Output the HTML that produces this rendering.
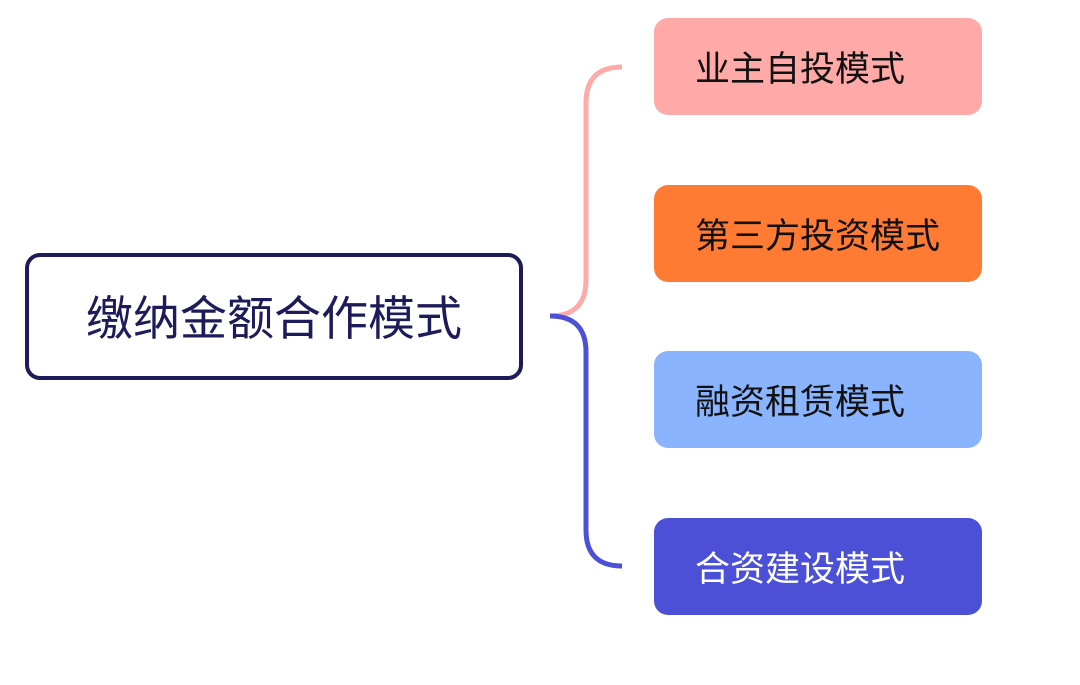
<!DOCTYPE html>
<html><head><meta charset="utf-8"><style>
body{margin:0;width:1080px;height:685px;background:#fff;position:relative;overflow:hidden;font-family:"Liberation Sans","Noto Sans CJK SC",sans-serif}
.b{position:absolute;left:654px;width:328px;height:97px;border-radius:14px;box-sizing:border-box;padding-left:41px;padding-top:3px;line-height:97px;font-size:35px;color:#111}
.root{position:absolute;left:25px;top:253px;width:498px;height:127px;box-sizing:border-box;border:4px solid #1e1b5a;border-radius:15px;text-align:center;line-height:123px;font-size:47px;color:#1e1b5a}
</style></head><body>
<svg width="1080" height="685" style="position:absolute;left:0;top:0">
<path d="M550 316 Q586 316 586 280 L586 103 Q586 67 622 67" fill="none" stroke="#ffaaa9" stroke-width="5"/>
<path d="M550 316 Q586 316 586 352 L586 530 Q586 566 622 566" fill="none" stroke="#4b50d6" stroke-width="5"/>
</svg>
<div class="root">缴纳金额合作模式</div>
<div class="b" style="top:18px;background:#ffaaa9">业主自投模式</div>
<div class="b" style="top:185px;background:#ff7a33">第三方投资模式</div>
<div class="b" style="top:351px;background:#8ab4fe">融资租赁模式</div>
<div class="b" style="top:518px;background:#4b50d6;color:#fff">合资建设模式</div>
</body></html>
